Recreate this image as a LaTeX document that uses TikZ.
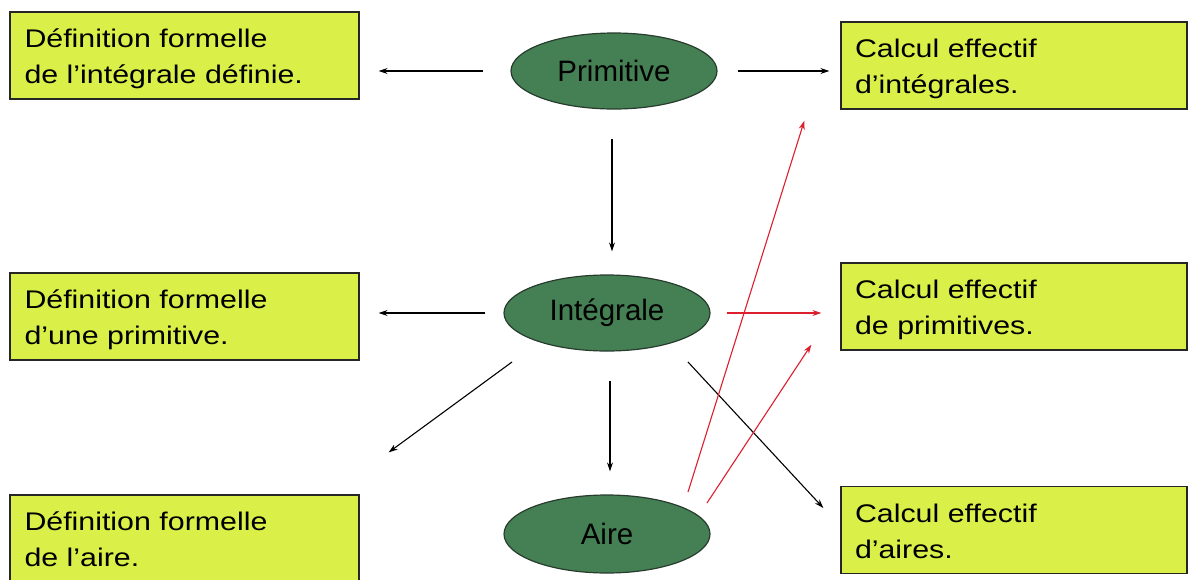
\documentclass[tikz,border=0pt]{standalone}
\usepackage{fontspec}
\setmainfont{Liberation Sans}
\newfontfamily\boxfont{Liberation Sans}[FakeStretch=1.19]
\usetikzlibrary{shapes.geometric,arrows.meta}
\definecolor{boxfill}{RGB}{218,240,72}
\definecolor{ellfill}{RGB}{68,128,84}
\definecolor{ellline}{RGB}{40,60,45}
\definecolor{redarrow}{RGB}{220,30,45}
\begin{document}
\begin{tikzpicture}[x=1pt,y=-1pt,
  infobox/.style={draw=black!85,line width=1.3pt,fill=boxfill,rectangle,
    font=\boxfont\fontsize{25.5}{36}\selectfont,
    execute at begin node={\rule{0pt}{26pt}},
    execute at end node={\rule[-5.6pt]{0pt}{5.6pt}},
    minimum height=87pt,inner xsep=14pt,inner ysep=0pt,align=left,anchor=center},
  leftbox/.style={infobox,text width=320pt,minimum width=349pt},
  rightbox/.style={infobox,text width=318pt,minimum width=346pt},
  concept/.style={draw=ellline,line width=1.2pt,fill=ellfill,ellipse,
    font=\fontsize{29.5}{34}\selectfont,
    minimum width=206pt,minimum height=76pt,inner sep=0pt},
  link/.style={-{Stealth[length=9pt,width=6pt]},line width=1.1pt,black},
  redlink/.style={link,redarrow}]
\useasboundingbox (0,0) rectangle (1188,579);
\node[leftbox] (d1) at (184.5,55.5) {Définition formelle\\de l’intégrale définie.};
\node[leftbox] (d2) at (184.5,316.5) {Définition formelle\\d’une primitive.};
\node[leftbox] (d3) at (184.5,538.5) {Définition formelle\\de l’aire.};
\node[rightbox] (c1) at (1014,65.5) {Calcul effectif\\d’intégrales.};
\node[rightbox] (c2) at (1014,306.5) {Calcul effectif\\de primitives.};
\node[rightbox] (c3) at (1014,530) {Calcul effectif\\d’aires.};
\node[concept] (e1) at (614,71) {Primitive};
\node[concept] (e2) at (607,313) {Intégrale};
\node[concept,minimum height=78pt] (e3) at (607,534) {Aire};
% Primitive
\draw[link,shorten <=27pt,shorten >=19pt] (e1.west) -- (e1.west -| d1.east);
\draw[link,shorten <=20pt,shorten >=11pt] (e1.east) -- (e1.east -| c1.west);
\draw[link,shorten <=29pt,shorten >=23pt] ([xshift=-2pt]e1.south) -- ([xshift=-2pt]e1.south |- e2.north);
% Integrale
\draw[link,shorten <=18pt,shorten >=19pt] (e2.west) -- (e2.west -| d2.east);
\draw[redlink,shorten <=16pt,shorten >=19pt] (e2.east) -- (e2.east -| c2.west);
\draw[link,shorten <=29pt,shorten >=23pt] ([xshift=3pt]e2.south) -- ([xshift=3pt]e2.south |- e3.north);
\draw[link] ([xshift=-95pt,yshift=-49pt]e2.center) -- ([xshift=29pt,yshift=42pt]d3.north east);
\draw[link] ([xshift=81pt,yshift=-49pt]e2.center) -- ([xshift=-17pt,yshift=22pt]c3.west);
% Aire
\draw[redlink] ([xshift=81pt,yshift=42pt]e3.center) -- ([xshift=-36pt,yshift=-11pt]c1.south west);
\draw[redlink] ([xshift=100pt,yshift=31pt]e3.center) -- ([xshift=-29pt,yshift=6pt]c2.south west);
\end{tikzpicture}
\end{document}
